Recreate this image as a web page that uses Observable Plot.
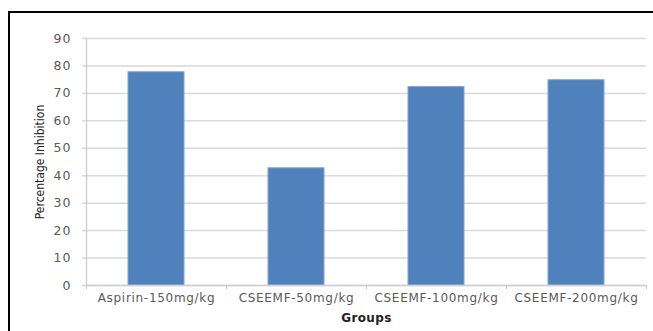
<!DOCTYPE html>
<html>
<head>
<meta charset="utf-8">
<script src="https://cdn.jsdelivr.net/npm/d3@7"></script>
<script src="https://cdn.jsdelivr.net/npm/@observablehq/plot@0.6"></script>
<style>
  html, body { margin: 0; padding: 0; background: #fff; }
  #wrap { position: relative; width: 653px; height: 331px; overflow: hidden; }
  #box {
    position: absolute; left: 8px; top: 11px; right: -10px; bottom: -10px;
    border-top: 2.5px solid #000; border-left: 2.5px solid #000;
    pointer-events: none;
  }
  #chart svg { display: block; }
  g[aria-label="x-axis tick label"] text { letter-spacing: 0.7px; }
  g[aria-label="y-axis tick label"] text { letter-spacing: 1px; }
  g[aria-label="x-axis label"] text { font-weight: bold; fill: #222; font-size: 12px; letter-spacing: 0.4px; }
  g[aria-label="y-axis label"] text { font-family: "DejaVu Sans Condensed", "Liberation Sans Narrow", sans-serif; fill: #222; font-size: 12px; }
</style>
</head>
<body>
<div id="wrap">
  <div id="chart"></div>
  <div id="box"></div>
</div>
<script>
// Groups and their percentage inhibition
const groups = ["Aspirin-150mg/kg", "CSEEMF-50mg/kg", "CSEEMF-100mg/kg", "CSEEMF-200mg/kg"];
const inhibition = [77.7, 42.7, 72.3, 74.8];
const yTicks = [0, 10, 20, 30, 40, 50, 60, 70, 80, 90];

const data = groups.map((g, i) => ({group: g, value: inhibition[i]}));

const W = 653, H = 331;
const mL = 86, mR = 7, mT = 38, mB = 46;
const half = (W - mL - mR) / groups.length / 2;

const chart = Plot.plot({
  width: W,
  height: H,
  marginLeft: mL,
  marginRight: mR,
  marginTop: mT,
  marginBottom: mB,
  style: {fontFamily: "'DejaVu Sans', sans-serif", color: "#595959", background: "transparent"},
  x: {domain: groups, paddingInner: 0.6, paddingOuter: 0.3},
  y: {domain: [0, 90]},
  marks: [
    // horizontal gridlines, with a short tick to the left of the axis
    Plot.ruleY(yTicks, {stroke: "#d9d9d9", strokeWidth: 1.5}),
    Plot.axisY({ticks: yTicks, tickSize: 4, tickPadding: 11, fontSize: 12.5, stroke: "#d9d9d9", strokeWidth: 1.5,
      label: "Percentage Inhibition", labelAnchor: "center", labelArrow: "none", labelOffset: 51}),
    Plot.frame({anchor: "left", stroke: "#d0d0d0", strokeWidth: 1.5}),
    Plot.barY(data, {x: "group", y: "value", fill: "#4f81bd", stroke: "#7fa3d0", strokeWidth: 1}),
    Plot.ruleY([0], {stroke: "#d0d0d0", strokeWidth: 1.5}),
    // category boundary ticks on the x axis
    Plot.axisX({tickSize: 4, dx: -half, text: null, label: null, stroke: "#c8c8c8"}),
    Plot.axisX([groups[groups.length - 1]], {tickSize: 4, dx: half, text: null, label: null, stroke: "#c8c8c8"}),
    Plot.axisX({tickSize: 0, tickPadding: 8, fontSize: 12, label: "Groups", labelAnchor: "center", labelArrow: "none", labelOffset: 36})
  ]
});
document.getElementById("chart").append(chart);
</script>
</body>
</html>
